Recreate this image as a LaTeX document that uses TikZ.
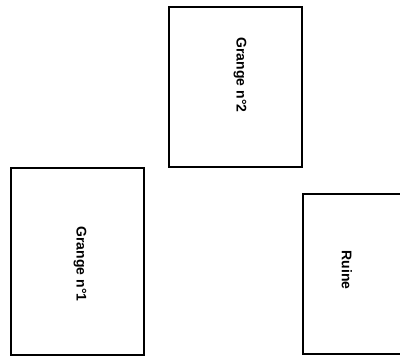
\documentclass[tikz,border=0pt]{standalone}
\usepackage{fontspec}
\setmainfont{Liberation Sans}
\begin{document}
\begin{tikzpicture}[x=1pt,y=-1pt,
  barn/.style={draw=black,line width=1.8pt,fill=white},
  lab/.style={font=\fontsize{14}{16}\selectfont\bfseries,rotate=-90,inner sep=0pt}]
\useasboundingbox (0,0) rectangle (400,359);
\draw[barn] (169,7) rectangle (302,167);
\node[lab] (g2) at (240,75) {Grange n°2};
\draw[barn] (11,168) rectangle (144,355);
\node[lab] (g1) at (80,264) {Grange n°1};
\draw[barn] (303,194) rectangle (420,354);
\node[lab] (ru) at (347,270) {Ruine};
\end{tikzpicture}
\end{document}
